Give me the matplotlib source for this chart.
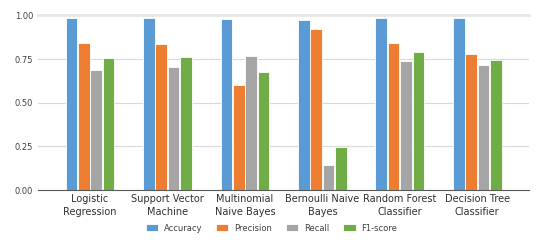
import matplotlib
matplotlib.use("Agg")
import matplotlib.pyplot as plt
import numpy as np

categories = ["Logistic\nRegression", "Support Vector\nMachine", "Multinomial\nNaive Bayes",
              "Bernoulli Naive\nBayes", "Random Forest\nClassifier", "Decision Tree\nClassifier"]
series_names = ["Accuracy", "Precision", "Recall", "F1-score"]
accuracy = [0.987, 0.987, 0.980, 0.976, 0.987, 0.984]
precision = [0.844, 0.837, 0.602, 0.921, 0.844, 0.778]
recall = [0.688, 0.703, 0.768, 0.143, 0.737, 0.715]
f1_score = [0.756, 0.764, 0.674, 0.246, 0.789, 0.745]
yticks = [0.00, 0.25, 0.50, 0.75, 1.00]

colors = ["#5B9BD5", "#ED7D31", "#A5A5A5", "#70AD47"]

fig = plt.figure(figsize=(5.45, 2.45), dpi=100)
ax = fig.add_axes([0.070, 0.224, 0.901, 0.713])

x = np.arange(len(categories))
pitch = 0.16
width = 0.15
for i, (vals, name) in enumerate(zip([accuracy, precision, recall, f1_score], series_names)):
    ax.bar(x + (i - 1.5) * pitch, vals, width, color=colors[i], label=name,
           edgecolor="white", linewidth=0.6, zorder=3)

ax.set_xlim(-0.67, 5.67)
ax.set_ylim(0, 1.0)
ax.set_yticks(yticks)
ax.set_yticklabels([f"{v:.2f}" for v in yticks], fontsize=6, color="#404040")
ax.set_xticks(x)
ax.set_xticklabels(categories, fontsize=7, color="#303030", linespacing=1.35)
ax.tick_params(axis="both", length=0, pad=3)
ax.tick_params(axis="y", pad=3.5)
ax.grid(axis="y", color="#D9D9D9", linewidth=0.8, zorder=0)
gl = ax.yaxis.get_gridlines()
gl[-1].set_color("#E8E8E8")
gl[-1].set_linewidth(2.0)
gl[-1].set_clip_on(False)
ax.set_axisbelow(True)
for s in ["top", "right", "left"]:
    ax.spines[s].set_visible(False)
ax.spines["bottom"].set_color("#595959")
ax.spines["bottom"].set_linewidth(0.8)
ax.spines["bottom"].set_zorder(4)

leg = fig.legend(loc="center", bbox_to_anchor=(0.498, 0.069), ncol=4, frameon=False,
                 fontsize=6, handlelength=1.45, handleheight=1.0, columnspacing=1.7,
                 handletextpad=0.7)
for t in leg.get_texts():
    t.set_color("#404040")

fig.savefig("out.png", dpi=100)
